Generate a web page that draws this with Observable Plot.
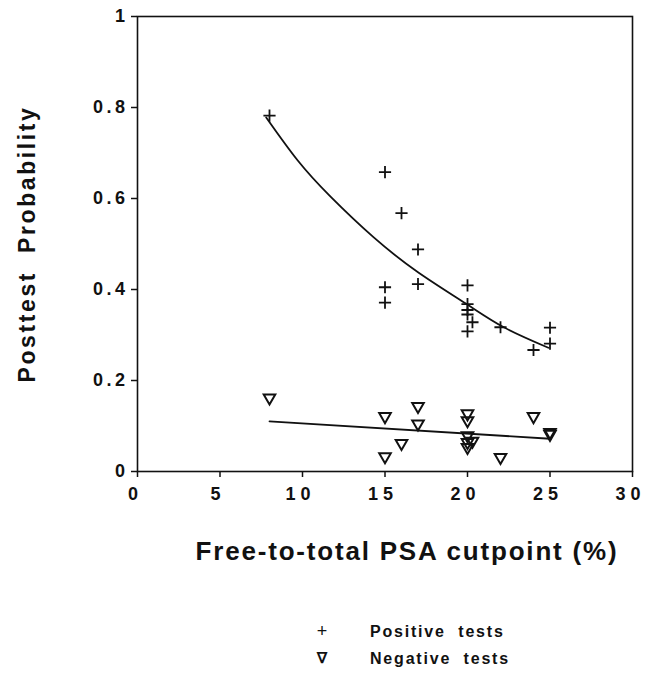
<!DOCTYPE html>
<html><head><meta charset="utf-8">
<script src="https://cdn.jsdelivr.net/npm/d3@7"></script>
<script src="https://cdn.jsdelivr.net/npm/@observablehq/plot@0.6"></script>
<style>
body{margin:0;background:#fff;font-family:"Liberation Sans",Arial,Helvetica,sans-serif;}
#wrap{position:relative;width:647px;height:680px;overflow:hidden;}
#chart svg{display:block;}
#chart .xtick text{letter-spacing:5px;}
#chart .ytick text{letter-spacing:3.5px;}
#chart .xtitle text{letter-spacing:1.8px;}
#chart .ytitle text{letter-spacing:2.6px;}
.leg{position:absolute;font-weight:bold;font-size:16px;letter-spacing:1.8px;line-height:20px;color:#111;white-space:pre;}
.sym{position:absolute;width:20px;text-align:center;font-size:18px;line-height:20px;color:#111;}
</style></head>
<body>
<div id="wrap">
  <div id="chart"></div>
  <div class="sym" style="left:312px;top:621px;">+</div>
  <div class="leg" style="left:370px;top:622px;">Positive  tests</div>
  <div class="sym" style="left:312px;top:648px;font-weight:bold;font-size:15px;">∇</div>
  <div class="leg" style="left:370px;top:649px;">Negative  tests</div>
</div>
<script>
// Positive tests (cutpoint %, posttest probability)
const posX = [8, 15, 16, 17, 15, 15, 17, 20, 20, 20, 20, 20.3, 20, 22, 24, 25, 25];
const posY = [0.782, 0.658, 0.568, 0.488, 0.405, 0.371, 0.412, 0.409, 0.368, 0.355, 0.345, 0.328, 0.308, 0.317, 0.267, 0.316, 0.281];
// Negative tests
const negX = [8, 15, 15, 16, 17, 17, 20, 20, 20, 20, 20, 20.3, 22, 24, 25, 25];
const negY = [0.162, 0.121, 0.033, 0.062, 0.143, 0.105, 0.127, 0.112, 0.079, 0.064, 0.053, 0.067, 0.031, 0.121, 0.086, 0.082];
// Fitted curves
const posFitX = [7.8, 9.7, 11.7, 14.3, 17.0, 19.9, 22.2, 24.9];
const posFitY = [0.778, 0.684, 0.604, 0.515, 0.438, 0.369, 0.317, 0.272];
const negFitX = [8, 25];
const negFitY = [0.110, 0.072];
const xTicks = [0, 5, 10, 15, 20, 25, 30];
const yTicks = [0, 0.2, 0.4, 0.6, 0.8, 1];
const xTitle = "Free-to-total PSA cutpoint (%)";
const yTitle = "Posttest  Probability";

const pos = posX.map((x, i) => ({x, y: posY[i]}));
const neg = negX.map((x, i) => ({x, y: negY[i]}));
const posFit = posFitX.map((x, i) => ({x, y: posFitY[i]}));
const negFit = negFitX.map((x, i) => ({x, y: negFitY[i]}));

const font = "'Liberation Sans', Arial, Helvetica, sans-serif";
const chart = Plot.plot({
  width: 647,
  height: 600,
  marginLeft: 137,
  marginRight: 15,
  marginTop: 16,
  marginBottom: 129,
  style: {fontFamily: font, color: "#111", background: "#fff", overflow: "visible"},
  x: {domain: [0, 30], ticks: xTicks, label: null},
  y: {domain: [0, 1], ticks: yTicks, label: null},
  marks: [
    Plot.frame({stroke: "#111", strokeWidth: 1.6}),
    Plot.axisX({ticks: xTicks, tickSize: 6, tickFormat: () => "", strokeWidth: 1.5, label: null}),
    Plot.axisY({ticks: yTicks, tickSize: 6, tickFormat: () => "", strokeWidth: 1.5, label: null}),
    Plot.text(xTicks, {x: d => d, frameAnchor: "bottom", dy: 23, dx: -2, text: d => String(d), fontSize: 18, fontWeight: "bold", fill: "#111", textAnchor: "middle", lineAnchor: "middle", className: "xtick"}),
    Plot.text(yTicks, {y: d => d, frameAnchor: "left", dx: -9, text: d => String(d), fontSize: 18, fontWeight: "bold", fill: "#111", textAnchor: "end", lineAnchor: "middle", className: "ytick"}),
    Plot.line(posFit, {x: "x", y: "y", curve: "natural", stroke: "#111", strokeWidth: 1.8}),
    Plot.line(negFit, {x: "x", y: "y", stroke: "#111", strokeWidth: 1.8}),
    Plot.dot(pos, {x: "x", y: "y", symbol: "plus", r: 4, stroke: "#111", strokeWidth: 1.8}),
    Plot.dot(neg, {x: "x", y: "y", symbol: "triangle", r: 4.3, rotate: 180, stroke: "#111", fill: "none", strokeWidth: 2}),
    Plot.text([xTitle], {frameAnchor: "bottom", dy: 80, dx: 22, text: d => d, fontSize: 26, fontWeight: "bold", fill: "#111", lineAnchor: "middle", textAnchor: "middle", className: "xtitle"}),
    Plot.text([yTitle], {frameAnchor: "left", dx: -110, text: d => d, rotate: -90, fontSize: 23, fontWeight: "bold", fill: "#111", lineAnchor: "middle", textAnchor: "middle", className: "ytitle"})
  ]
});
document.getElementById("chart").appendChild(chart);
</script>
</body></html>
